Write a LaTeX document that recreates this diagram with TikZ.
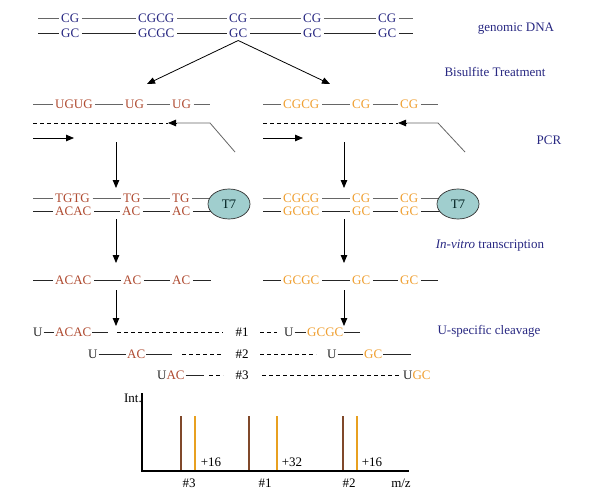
\documentclass[tikz,border=0pt]{standalone}
\usepackage{fontspec}
\setmainfont{Liberation Serif}
\usetikzlibrary{arrows.meta,backgrounds,shapes.geometric}
\definecolor{navy}{RGB}{40,40,130}
\definecolor{rust}{RGB}{176,76,50}
\definecolor{amber}{RGB}{240,160,50}
\definecolor{pbrown}{RGB}{128,72,42}
\definecolor{porange}{RGB}{232,160,32}
\definecolor{tealfill}{RGB}{160,206,206}
\begin{document}
\begin{tikzpicture}[x=1pt,y=-1pt,
  seq/.style={inner xsep=2.5pt, inner ysep=0pt, text height=8.6pt, text depth=0pt, anchor=west, font=\fontsize{13}{15}\selectfont},
  cut/.style={seq, inner xsep=0.8pt},
  lbl/.style={inner sep=0pt, font=\fontsize{13}{15}\selectfont, text=navy},
  plbl/.style={inner sep=0pt, font=\fontsize{13}{15}\selectfont},
  lnT/.style={draw=black!60, line width=0.8pt},
  lnB/.style={draw=black!85, line width=0.8pt},
  arr/.style={-{Triangle[length=8pt,width=6.5pt]}, line width=0.8pt, draw=black},
  dsh/.style={dash pattern=on 4pt off 3pt, line width=0.8pt, draw=black},
  tseven/.style={ellipse, draw=black!80, line width=0.7pt, fill=tealfill, minimum width=42pt, minimum height=30pt, inner sep=0pt, font=\fontsize{13}{15}\selectfont, text=black!75!teal},
  peak/.style={line width=1.8pt},
]
\useasboundingbox (0,0) rectangle (611,493);
\begin{scope}[on background layer]
\fill[white] (0,0) rectangle (611,493);
\end{scope}

% ---------- Row 1: genomic DNA ----------
\foreach \n/\x/\t in {a1/58.5/CG, a2/135.5/CGCG, a3/226.5/CG, a4/300.5/CG, a5/375.5/CG}
  \node[seq, text=navy] (\n) at (\x,18.5) {\t};
\foreach \n/\x/\t in {b1/58.5/GC, b2/135.5/GCGC, b3/226.5/GC, b4/300.5/GC, b5/375.5/GC}
  \node[seq, text=navy] (\n) at (\x,33) {\t};
\coordinate (a0) at (38,18.5); \coordinate (a6) at (413,18.5);
\coordinate (b0) at (38,33);   \coordinate (b6) at (413,33);
\draw[lnT] (a0) -- (a1.west);
\foreach \p/\q in {a1/a2, a2/a3, a3/a4, a4/a5} \draw[lnT] (\p.east) -- (\q.west);
\draw[lnT] (a5.east) -- (a6);
\draw[lnB] (b0) -- (b1.west);
\foreach \p/\q in {b1/b2, b2/b3, b3/b4, b4/b5} \draw[lnB] (\p.east) -- (\q.west);
\draw[lnB] (b5.east) -- (b6);
\node[lbl] (gdna) at (516,29) {genomic DNA};

% bisulfite arrows
\coordinate (bl) at (147,84);
\coordinate (br) at (330,84);
\draw[arr] ([yshift=-3pt]b3.south) -- (bl);
\draw[arr] ([yshift=-3pt]b3.south) -- (br);
\node[lbl] (bis) at (495,72) {Bisulfite Treatment};

% ---------- Row 2: after bisulfite ----------
\foreach \n/\x/\t in {c1/52.5/UGUG, c2/122.5/UG, c3/169.5/UG}
  \node[seq, text=rust] (\n) at (\x,104.5) {\t};
\coordinate (c0) at (33,104.5); \coordinate (c4) at (210,104.5);
\draw[lnT] (c0) -- (c1.west);
\foreach \p/\q in {c1/c2, c2/c3} \draw[lnT] (\p.east) -- (\q.west);
\draw[lnT] (c3.east) -- (c4);

\foreach \n/\x/\t in {d1/280.5/CGCG, d2/349.5/CG, d3/397.5/CG}
  \node[seq, text=amber] (\n) at (\x,104.5) {\t};
\coordinate (d0) at (263,104.5); \coordinate (d4) at (438,104.5);
\draw[lnT] (d0) -- (d1.west);
\foreach \p/\q in {d1/d2, d2/d3} \draw[lnT] (\p.east) -- (\q.west);
\draw[lnT] (d3.east) -- (d4);

% PCR primers left
\coordinate (pl1) at (235,152); \coordinate (pl2) at (210,123); \coordinate (pl3) at (168,123);
\coordinate (pl4) at (177,123);
\coordinate (dl0) at (33,123);
\draw[dsh] (dl0) -- (pl3);
\draw[lnT] (pl1) -- (pl2) -- (pl4);
\draw[arr] (pl4) -- (pl3);
\coordinate (fl0) at (33,138); \coordinate (fl1) at (74,138);
\draw[arr] (fl0) -- (fl1);
% PCR primers right
\coordinate (pr1) at (465,152); \coordinate (pr2) at (438,123); \coordinate (pr3) at (398,123);
\coordinate (pr4) at (407,123);
\coordinate (dr0) at (263,123);
\draw[dsh] (dr0) -- (pr3);
\draw[lnT] (pr1) -- (pr2) -- (pr4);
\draw[arr] (pr4) -- (pr3);
\coordinate (fr0) at (263,138); \coordinate (fr1) at (303,138);
\draw[arr] (fr0) -- (fr1);
\node[lbl] (pcr) at (549,140) {PCR};

% vertical arrows 1
\coordinate (v1a) at (116,142); \coordinate (v1b) at (116,188);
\coordinate (w1a) at (344,142); \coordinate (w1b) at (344,188);
\draw[arr] (v1a) -- (v1b);
\draw[arr] (w1a) -- (w1b);

% ---------- Row 3: PCR products with T7 ----------
\node[tseven] (t7l) at (229,204) {T7};
\node[tseven] (t7r) at (458,204) {T7};
\foreach \n/\x/\t in {e1/52.5/TGTG, e2/120.5/TG, e3/169.5/TG}
  \node[seq, text=rust] (\n) at (\x,198) {\t};
\foreach \n/\x/\t in {f1/52.5/ACAC, f2/119.5/AC, f3/169.5/AC}
  \node[seq, text=rust] (\n) at (\x,211) {\t};
\foreach \n/\x/\t in {g1/280.5/CGCG, g2/349.5/CG, g3/397.5/CG}
  \node[seq, text=amber] (\n) at (\x,198) {\t};
\foreach \n/\x/\t in {h1/280.5/GCGC, h2/349.5/GC, h3/397.5/GC}
  \node[seq, text=amber] (\n) at (\x,211) {\t};
\coordinate (e0) at (33,198); \coordinate (f0) at (33,211);
\coordinate (g0) at (263,198); \coordinate (h0) at (263,211);
\begin{scope}[on background layer]
\draw[lnT] (e0) -- (e1.west);
\foreach \p/\q in {e1/e2, e2/e3} \draw[lnT] (\p.east) -- (\q.west);
\draw[lnT] (e3.east) -- (e3.east -| t7l.center);
\draw[lnB] (f0) -- (f1.west);
\foreach \p/\q in {f1/f2, f2/f3} \draw[lnB] (\p.east) -- (\q.west);
\draw[lnB] (f3.east) -- (f3.east -| t7l.center);
\draw[lnT] (g0) -- (g1.west);
\foreach \p/\q in {g1/g2, g2/g3} \draw[lnT] (\p.east) -- (\q.west);
\draw[lnT] (g3.east) -- (g3.east -| t7r.center);
\draw[lnB] (h0) -- (h1.west);
\foreach \p/\q in {h1/h2, h2/h3} \draw[lnB] (\p.east) -- (\q.west);
\draw[lnB] (h3.east) -- (h3.east -| t7r.center);
\end{scope}

% vertical arrows 2
\coordinate (v2a) at (116,219); \coordinate (v2b) at (116,263);
\coordinate (w2a) at (344,219); \coordinate (w2b) at (344,263);
\draw[arr] (v2a) -- (v2b);
\draw[arr] (w2a) -- (w2b);
\node[lbl] (ivt) at (490,246) {\textit{In-vitro} transcription};

% ---------- Row 4: transcripts ----------
\foreach \n/\x/\t in {i1/52.5/ACAC, i2/120.5/AC, i3/169.5/AC}
  \node[seq, text=rust] (\n) at (\x,280) {\t};
\foreach \n/\x/\t in {j1/280.5/GCGC, j2/349.5/GC, j3/397.5/GC}
  \node[seq, text=amber] (\n) at (\x,280) {\t};
\coordinate (i0) at (33,280); \coordinate (i4) at (211,280);
\coordinate (j0) at (263,280); \coordinate (j4) at (438,280);
\draw[lnB] (i0) -- (i1.west);
\foreach \p/\q in {i1/i2, i2/i3} \draw[lnB] (\p.east) -- (\q.west);
\draw[lnB] (i3.east) -- (i4);
\draw[lnB] (j0) -- (j1.west);
\foreach \p/\q in {j1/j2, j2/j3} \draw[lnB] (\p.east) -- (\q.west);
\draw[lnB] (j3.east) -- (j4);

% vertical arrows 3
\coordinate (v3a) at (116,290); \coordinate (v3b) at (116,326);
\coordinate (w3a) at (344,290); \coordinate (w3b) at (344,326);
\draw[arr] (v3a) -- (v3b);
\draw[arr] (w3a) -- (w3b);

% ---------- Rows 5-7: U-specific cleavage ----------
\node[lbl] (usc) at (489,331) {U-specific cleavage};
% row 5
\node[cut, text=black!85] (k1) at (32.2,332) {U};
\node[cut, text=rust] (k2) at (54.2,332) {ACAC};
\coordinate (k3) at (108,332);
\coordinate (k4) at (117,332); \coordinate (k5) at (223,332);
\node[plbl] (n1) at (242,332) {\#1};
\coordinate (k6) at (260,332); \coordinate (k7) at (277,332);
\node[cut, text=black!85] (k8) at (283.2,332) {U};
\node[cut, text=amber] (k9) at (306.2,332) {GCGC};
\coordinate (k10) at (360,332);
\draw[lnB] (k1.east) -- (k2.west);
\draw[lnB] (k2.east) -- (k3);
\draw[dsh] (k4) -- (k5);
\draw[dsh] (k6) -- (k7);
\draw[lnB] (k8.east) -- (k9.west);
\draw[lnB] (k9.east) -- (k10);
% row 6
\node[cut, text=black!85] (m1) at (87.2,354) {U};
\node[cut, text=rust] (m2) at (126.2,354) {AC};
\coordinate (m3) at (172,354);
\coordinate (m4) at (182,354); \coordinate (m5) at (222,354);
\node[plbl] (n2) at (242,354) {\#2};
\coordinate (m6) at (260,354); \coordinate (m7) at (316,354);
\node[cut, text=black!85] (m8) at (326.2,354) {U};
\node[cut, text=amber] (m9) at (363.2,354) {GC};
\coordinate (m10) at (411,354);
\draw[lnB] (m1.east) -- (m2.west);
\draw[lnB] (m2.east) -- (m3);
\draw[dsh] (m4) -- (m5);
\draw[dsh] (m6) -- (m7);
\draw[lnB] (m8.east) -- (m9.west);
\draw[lnB] (m9.east) -- (m10);
% row 7
\node[cut] (q1) at (156.2,375) {\textcolor{black!85}{U}\textcolor{rust}{AC}};
\coordinate (q2) at (204,375);
\coordinate (q3) at (209,375); \coordinate (q4) at (223,375);
\node[plbl] (n3) at (242,375) {\#3};
\coordinate (q5) at (262,375); \coordinate (q6) at (400,375);
\node[cut] (q7) at (402.2,375) {\textcolor{black!85}{U}\textcolor{amber}{GC}};
\draw[lnB] (q1.east) -- (q2);
\draw[dsh] (q3) -- (q4);
\draw[dsh] (q5) -- (q6);

% ---------- Mass spectrum ----------
\coordinate (ytop) at (142,393);
\coordinate (orig) at (142,471);
\coordinate (xend) at (409,471);
\draw[line width=1.3pt, draw=black] (ytop) -- (orig) -- (xend);
\node[plbl, anchor=east] (int) at (142,398) {Int.};
\foreach \n/\x/\c in {pk1/181/pbrown, pk2/195/porange, pk3/249/pbrown, pk4/277/porange, pk5/343/pbrown, pk6/357/porange}{
  \coordinate (\n t) at (\x,416);
  \coordinate (\n b) at (\x,470.3);
  \draw[peak, draw=\c] (\n t) -- (\n b);
}
\node[plbl] (p16a) at (211,462) {+16};
\node[plbl] (p32) at (292,462) {+32};
\node[plbl] (p16b) at (372,462) {+16};
\node[plbl] (h3) at (189,483) {\#3};
\node[plbl] (h1) at (265,483) {\#1};
\node[plbl] (h2) at (349,483) {\#2};
\node[plbl] (mz) at (401,483) {m/z};
\end{tikzpicture}
\end{document}
